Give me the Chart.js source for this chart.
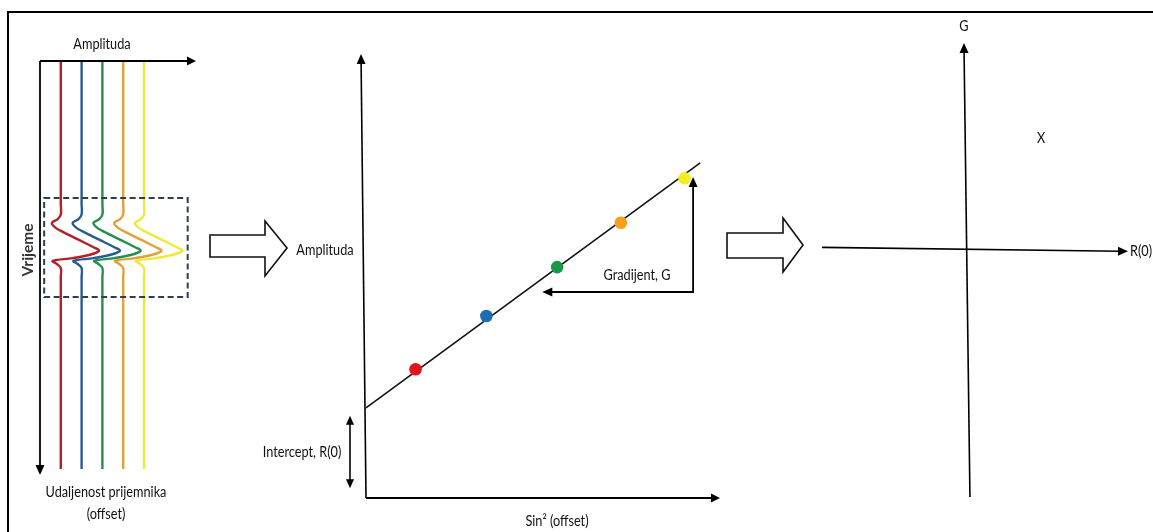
<!DOCTYPE html>
<html><head><meta charset="utf-8">
<script src="https://cdn.jsdelivr.net/npm/chart.js@4.4.1/dist/chart.umd.min.js"></script>
<style>
html,body{margin:0;padding:0;background:#fff;width:1153px;height:532px;overflow:hidden}
#frame{position:absolute;left:7px;top:11px;width:1200px;height:600px;border-left:2px solid #000;border-top:2px solid #000}
canvas{position:absolute;left:0;top:0}
</style></head><body>
<div id="frame"></div>
<canvas id="c1" width="1153" height="532"></canvas>
<canvas id="c2" width="1153" height="532"></canvas>
<canvas id="c3" width="1153" height="532"></canvas>
<script>
// ================= DATA =================
// Panel 1 - seismic gather (wiggle traces)
const RECEIVER_OFFSETS = [1, 2, 3, 4, 5];
const WAVELET_TIME = [0, 700, 752, 775, 794, 814, 833, 877, 912, 931, 951, 966, 980, 995, 1015, 1060, 2000];
const WAVELET_AMP  = [0, 0, 0, -0.15, -0.43, -0.29, 0, 0.87, 1.55, 1.84, 1.35, 0.58, -0.39, -0.19, 0, 0, 0];
const TIME_RANGE = [0, 2000];
const TIME_AXIS_END = 2030;
const AMP_RANGE = [0, 7.5];
const WINDOW_TIME = [672, 1157];
const WINDOW_AMP = [0.2, 7.1];

// Panel 2 - amplitude vs sin^2(offset)
const SIN2_OFFSET = [0.07, 0.17, 0.27, 0.36, 0.45];
const AMPLITUDE   = [0.29, 0.41, 0.52, 0.62, 0.72];
const FIT_SIN2 = [0, 0.472];
const FIT_AMP  = [0.203, 0.755];
const SIN2_RANGE = [0, 0.5];
const AMPL_RANGE = [0, 1];
const INTERCEPT_ARROW = [0.022, 0.185];
const GRADIENT_RUN = [0.249, 0.462];
const GRADIENT_RISE = [0.464, 0.723];

// Panel 3 - intercept / gradient crossplot
const R0_RANGE = [-0.9, 1.0];
const G_RANGE  = [-1.2, 1.0];
const CROSS_R0 = [0.46];
const CROSS_G  = [0.54];

// ================= STYLE =================
const TRACE_COLORS = ['#b3202a', '#285d92', '#23904f', '#dfa23a', '#efe93a'];
const POINT_COLORS = ['#e3151b', '#1e6cb3', '#179a4a', '#f4a21c', '#f3ee22'];
const FONT = '"Lato", "Open Sans", sans-serif';
const TXT = '#111';

function head(ctx, x, y, dx, dy, len, hw) {
  const l = Math.hypot(dx, dy), ux = dx / l, uy = dy / l;
  const bx = x - ux * len, by = y - uy * len;
  ctx.beginPath();
  ctx.moveTo(x, y);
  ctx.lineTo(bx - uy * hw, by + ux * hw);
  ctx.lineTo(bx + uy * hw, by - ux * hw);
  ctx.closePath();
  ctx.fill();
}
function arrow(ctx, x1, y1, x2, y2, w, len, hw, both) {
  ctx.save();
  ctx.strokeStyle = '#000'; ctx.fillStyle = '#000'; ctx.lineWidth = w;
  const l = Math.hypot(x2 - x1, y2 - y1), ux = (x2 - x1) / l, uy = (y2 - y1) / l;
  ctx.beginPath();
  ctx.moveTo(both ? x1 + ux * len * 0.8 : x1, both ? y1 + uy * len * 0.8 : y1);
  ctx.lineTo(x2 - ux * len * 0.8, y2 - uy * len * 0.8);
  ctx.stroke();
  head(ctx, x2, y2, x2 - x1, y2 - y1, len, hw);
  if (both) head(ctx, x1, y1, x1 - x2, y1 - y2, len, hw);
  ctx.restore();
}
function text(ctx, s, x, y, opt) {
  opt = opt || {};
  ctx.save();
  ctx.fillStyle = opt.color || TXT;
  ctx.font = (opt.weight || 'normal') + ' ' + (opt.size || 15.5) + 'px ' + FONT;
  ctx.textAlign = opt.align || 'center';
  ctx.textBaseline = 'middle';
  ctx.translate(x, y);
  if (opt.rot) ctx.rotate(opt.rot);
  ctx.scale(opt.sx || 0.82, 1);
  ctx.fillText(s, 0, 0);
  ctx.restore();
}
function hollowArrow(ctx, x0, bodyTop, bodyBot, xh, headTop, headBot, tipX, tipY) {
  ctx.save();
  ctx.fillStyle = '#fff'; ctx.strokeStyle = '#111'; ctx.lineWidth = 1.6; ctx.lineJoin = 'miter';
  ctx.beginPath();
  ctx.moveTo(x0, bodyTop); ctx.lineTo(xh, bodyTop); ctx.lineTo(xh, headTop);
  ctx.lineTo(tipX, tipY); ctx.lineTo(xh, headBot); ctx.lineTo(xh, bodyBot);
  ctx.lineTo(x0, bodyBot); ctx.closePath();
  ctx.fill(); ctx.stroke();
  ctx.restore();
}

const baseOpts = (pad, xr, yr, yRev) => ({
  responsive: false, animation: false, events: [],
  layout: { padding: pad },
  plugins: { legend: { display: false }, tooltip: { enabled: false }, title: { display: false } },
  scales: {
    x: { type: 'linear', display: false, min: xr[0], max: xr[1] },
    y: { type: 'linear', display: false, min: yr[0], max: yr[1], reverse: !!yRev }
  }
});

// ================= PANEL 1 =================
const traceSets = RECEIVER_OFFSETS.map((off, i) => ({
  data: WAVELET_TIME.map((t, j) => ({ x: off + WAVELET_AMP[j], y: t })),
  borderColor: TRACE_COLORS[i], borderWidth: 2.4, pointRadius: 0, tension: 0.4,
  fill: false, clip: false, showLine: true
}));
new Chart(document.getElementById('c1'), {
  type: 'scatter',
  data: { datasets: traceSets },
  options: baseOpts({ left: 40, top: 61, right: 1153 - 196, bottom: 532 - 469 }, AMP_RANGE, TIME_RANGE, true),
  plugins: [{
    id: 'p1',
    afterDatasetsDraw(chart) {
      const ctx = chart.ctx, xs = chart.scales.x, ys = chart.scales.y;
      const x0 = xs.getPixelForValue(0), y0 = ys.getPixelForValue(0);
      arrow(ctx, x0, y0, xs.getPixelForValue(AMP_RANGE[1]), y0, 1.8, 9, 4.5);
      arrow(ctx, x0, y0, x0, ys.getPixelForValue(TIME_AXIS_END), 1.8, 10, 4.5);
      ctx.save();
      ctx.strokeStyle = '#2d3e50'; ctx.lineWidth = 2; ctx.setLineDash([6, 3.5]);
      const bx1 = xs.getPixelForValue(WINDOW_AMP[0]), bx2 = xs.getPixelForValue(WINDOW_AMP[1]);
      const by1 = ys.getPixelForValue(WINDOW_TIME[0]), by2 = ys.getPixelForValue(WINDOW_TIME[1]);
      ctx.strokeRect(bx1, by1, bx2 - bx1, by2 - by1);
      ctx.restore();
      text(ctx, 'Amplituda', 102, 44);
      text(ctx, 'Vrijeme', 28, 250, { rot: -Math.PI / 2, weight: 'bold', color: '#333', sx: 1, size: 15.5 });
      text(ctx, 'Udaljenost prijemnika', 106, 492);
      text(ctx, '(offset)', 106, 514);
    }
  }]
});

// ================= PANEL 2 =================
new Chart(document.getElementById('c2'), {
  type: 'scatter',
  data: {
    datasets: [
      { data: FIT_SIN2.map((x, i) => ({ x, y: FIT_AMP[i] })), showLine: true, borderColor: '#111',
        borderWidth: 1.6, pointRadius: 0, clip: false, order: 2 },
      { data: SIN2_OFFSET.map((x, i) => ({ x, y: AMPLITUDE[i] })), pointRadius: 6.3,
        pointBackgroundColor: POINT_COLORS, pointBorderWidth: 0, borderWidth: 0, clip: false, order: 1 }
    ]
  },
  options: baseOpts({ left: 366, top: 54, right: 1153 - 720, bottom: 532 - 498 }, SIN2_RANGE, AMPL_RANGE),
  plugins: [{
    id: 'p2',
    afterDatasetsDraw(chart) {
      const ctx = chart.ctx, xs = chart.scales.x, ys = chart.scales.y;
      const x0 = xs.getPixelForValue(0), y0 = ys.getPixelForValue(0);
      arrow(ctx, x0, y0, x0 - 5, ys.getPixelForValue(AMPL_RANGE[1]), 1.6, 10, 4.5);
      arrow(ctx, x0, y0, xs.getPixelForValue(SIN2_RANGE[1]), y0, 1.8, 9, 4.5);
      const ix = x0 - 16;
      arrow(ctx, ix, ys.getPixelForValue(INTERCEPT_ARROW[0]), ix, ys.getPixelForValue(INTERCEPT_ARROW[1]), 1.6, 9, 4, true);
      const gx = xs.getPixelForValue(GRADIENT_RUN[1]), gy = ys.getPixelForValue(GRADIENT_RISE[0]);
      arrow(ctx, gx, gy + 0.9, gx, ys.getPixelForValue(GRADIENT_RISE[1]), 1.8, 10, 4.5);
      arrow(ctx, gx + 0.9, gy, xs.getPixelForValue(GRADIENT_RUN[0]), gy, 1.8, 10, 4.5);
      hollowArrow(ctx, 210, 235, 257, 265, 221, 276, 287, 248);
      text(ctx, 'Amplituda', 325, 250);
      text(ctx, 'Gradijent, G', 637, 275);
      text(ctx, 'Intercept, R(0)', 302, 452);
      text(ctx, 'Sin² (offset)', 557, 521);
    }
  }]
});

// ================= PANEL 3 =================
new Chart(document.getElementById('c3'), {
  type: 'scatter',
  data: { datasets: [{ data: CROSS_R0.map((x, i) => ({ x, y: CROSS_G[i] })), pointRadius: 0, clip: false }] },
  options: baseOpts({ left: 822, top: 43, right: 1153 - 1128, bottom: 532 - 497 }, R0_RANGE, G_RANGE),
  plugins: [{
    id: 'p3',
    afterDatasetsDraw(chart) {
      const ctx = chart.ctx, xs = chart.scales.x, ys = chart.scales.y;
      const x0 = xs.getPixelForValue(0), y0 = ys.getPixelForValue(0);
      const yb = ys.getPixelForValue(G_RANGE[0]), yt = ys.getPixelForValue(G_RANGE[1]);
      const xl = xs.getPixelForValue(R0_RANGE[0]), xr = xs.getPixelForValue(R0_RANGE[1]);
      arrow(ctx, x0 + 3, yb, x0 - 3, yt, 1.6, 10, 4.5);
      arrow(ctx, xl, y0 - 2, xr, y0 + 2, 1.6, 10, 4.5);
      hollowArrow(ctx, 727, 233, 258, 783, 218, 272, 803, 245);
      text(ctx, 'G', x0 - 3, 26);
      text(ctx, 'R(0)', xr + 2, y0 + 2, { align: 'left' });
      const pts = chart.getDatasetMeta(0).data;
      pts.forEach(p => text(ctx, 'X', p.x, p.y));
    }
  }]
});
</script>
</body></html>
